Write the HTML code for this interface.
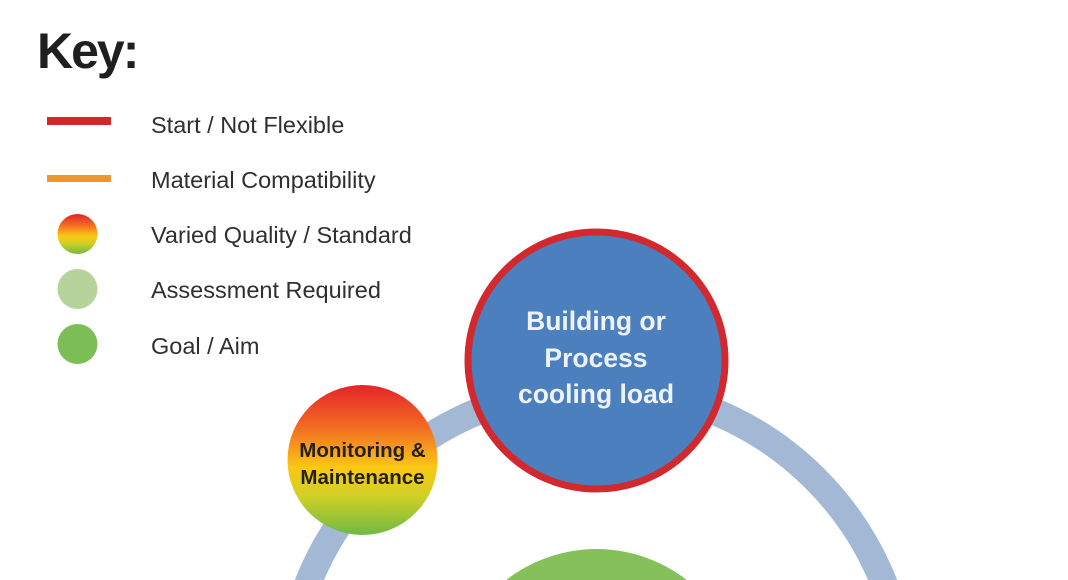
<!DOCTYPE html>
<html>
<head>
<meta charset="utf-8">
<style>
  html, body { margin:0; padding:0; background:#ffffff; width:1068px; height:580px; overflow:hidden; }
  svg { display:block; overflow:hidden; }
  .lg { font-family:"Liberation Sans", sans-serif; font-size:23.5px; fill:#2f2f2f; }
</style>
</head>
<body>
<svg width="1068" height="580" viewBox="0 0 1068 580" xmlns="http://www.w3.org/2000/svg">
  <defs>
    <linearGradient id="vq" x1="0" y1="0" x2="0" y2="1">
      <stop offset="0" stop-color="#e5242a"/>
      <stop offset="0.28" stop-color="#f26b23"/>
      <stop offset="0.55" stop-color="#fbc814"/>
      <stop offset="0.75" stop-color="#cdd027"/>
      <stop offset="1" stop-color="#6fb944"/>
    </linearGradient>
    <clipPath id="frame"><rect width="1068" height="580"/></clipPath>
  </defs>
  <g clip-path="url(#frame)">
  <rect width="1068" height="580" fill="#ffffff"/>

  <!-- Key -->
  <text x="37" y="68" font-family="Liberation Sans, sans-serif" font-weight="bold" font-size="50" letter-spacing="-2" fill="#1f1f1f">Key:</text>

  <rect x="47" y="117" width="64" height="8" fill="#d2282c"/>
  <text class="lg" x="151" y="133">Start / Not Flexible</text>

  <rect x="47" y="175" width="64" height="7" fill="#f09528"/>
  <text class="lg" x="151" y="188">Material Compatibility</text>

  <circle cx="77.5" cy="234" r="20" fill="url(#vq)"/>
  <text class="lg" x="151" y="243">Varied Quality / Standard</text>

  <circle cx="77.5" cy="289" r="20" fill="#b6d39b"/>
  <text class="lg" x="151" y="298">Assessment Required</text>

  <circle cx="77.5" cy="344" r="20" fill="#7cbd55"/>
  <text class="lg" x="151" y="354">Goal / Aim</text>

  <!-- Big ring -->
  <circle cx="596" cy="698" r="310" fill="none" stroke="#a2b8d4" stroke-width="27"/>

  <!-- Green goal circle -->
  <circle cx="596.5" cy="696" r="147" fill="#86c05b"/>

  <!-- Monitoring & Maintenance -->
  <circle cx="362.5" cy="460" r="75" fill="url(#vq)"/>
  <text x="362.5" y="457" text-anchor="middle" font-family="Liberation Sans, sans-serif" font-weight="bold" font-size="20.5" fill="#231f1a">Monitoring &amp;</text>
  <text x="362.5" y="484" text-anchor="middle" font-family="Liberation Sans, sans-serif" font-weight="bold" font-size="20.5" fill="#231f1a">Maintenance</text>

  <!-- Building or Process cooling load -->
  <circle cx="596.5" cy="360.5" r="128.5" fill="#4b7fbd" stroke="#d1292e" stroke-width="7"/>
  <g font-family="Liberation Sans, sans-serif" font-weight="bold" font-size="26.5" fill="#eef3f9" text-anchor="middle">
    <text x="596" y="330">Building or</text>
    <text x="596" y="367">Process</text>
    <text x="596" y="403">cooling load</text>
  </g>
  </g>
</svg>
</body>
</html>
